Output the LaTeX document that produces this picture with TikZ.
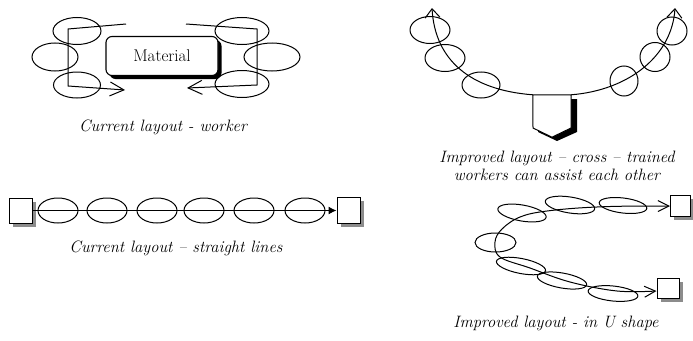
\documentclass[tikz,border=0pt]{standalone}
\usetikzlibrary{shapes.geometric,arrows.meta,shadows}
\begin{document}
\begin{tikzpicture}[x=1pt,y=-1pt,
  flow/.style={line width=1pt},
  worker/.style={draw, ellipse, line width=1pt, inner sep=0pt},
  station/.style={draw, fill=white, line width=1pt, inner sep=0pt,
    drop shadow={shadow xshift=3.5pt, shadow yshift=-3.5pt, fill=black!45, opacity=1}},
  caption/.style={font=\fontsize{16.5}{18}\selectfont\itshape, inner sep=0pt, align=center},
  openend/.style={-{Straight Barb[length=14pt,width=14pt,line width=1pt]}},
  uptip/.style={-{Straight Barb[length=9pt,width=15pt,line width=1pt]}},
  bothends/.style={{Straight Barb[length=11pt,width=11pt,line width=1pt]}-{Straight Barb[length=11pt,width=11pt,line width=1pt]}}]

\useasboundingbox (0,0) rectangle (693,340);

% ---------- current layout: one worker per side of the material ----------
\node[draw, fill=white, line width=1.1pt, rounded corners=6pt, minimum width=112pt, minimum height=39pt,
  drop shadow={shadow xshift=3.5pt, shadow yshift=-3.5pt, fill=black, opacity=1},
  font=\fontsize{17}{19}\selectfont] (mat) at (162,56) {Material};

\node[worker, minimum width=48pt, minimum height=27pt] (l1) at (77,31) {};
\node[worker, minimum width=46pt, minimum height=28pt] (l2) at (55,57) {};
\node[worker, minimum width=47pt, minimum height=26pt] (l3) at (77,85) {};
\node[worker, minimum width=54pt, minimum height=27pt] (r1) at (242,31) {};
\node[worker, minimum width=56pt, minimum height=28pt] (r2) at (272,57) {};
\node[worker, minimum width=54pt, minimum height=27pt] (r3) at (242,84) {};

\coordinate (lin) at (126,24);
\coordinate (lout) at (125,90);
\coordinate (rin) at (186,24);
\coordinate (rout) at (187,88);
\draw[flow, openend] (lin) -- (68,29) -- (68,86) -- (lout);
\draw[flow, openend] (rin) -- (257,29) -- (257,85) -- (rout);

\node[caption] (cap1) at (163,127) {Current layout - worker};

% ---------- improved layout: cross-trained workers around one station ----------
\node[minimum width=38pt, minimum height=42pt, inner sep=0pt] (bin) at (552,116) {};
\fill[black] (538,99) -- (577,99) -- (577,132) -- (557,141) -- (538,132) -- cycle;
\draw[fill=white, line width=1pt] (bin.north west) -- (bin.north east) -- (571,128) -- (bin.south) -- (533,128) -- cycle;

\node[worker, minimum width=40pt, minimum height=27pt] (a1) at (430,30) {};
\node[worker, minimum width=40pt, minimum height=27pt] (a2) at (445,58) {};
\node[worker, minimum width=38pt, minimum height=26pt] (a3) at (481,85) {};
\node[worker, minimum width=28pt, minimum height=30pt] (b1) at (624,81) {};
\node[worker, minimum width=30pt, minimum height=29pt] (b2) at (655,57) {};
\node[worker, minimum width=30pt, minimum height=28pt] (b3) at (672,31) {};

\coordinate (atop) at (432,8);
\coordinate (btop) at (675,8);
\draw[flow, uptip] (bin.north west) .. controls (470,90) and (435,60) .. (atop);
\draw[flow, uptip] (bin.north east) .. controls (630,90) and (672,55) .. (btop);

\node[caption] (cap2) at (557,166) {Improved layout -- cross -- trained\\workers can assist each other};

% ---------- current layout: straight line ----------
\node[station, minimum width=23pt, minimum height=25pt] (sl) at (20.5,210.5) {};
\node[station, minimum width=23pt, minimum height=26pt] (sr) at (348.5,210.5) {};
\foreach \x [count=\i] in {58,107,157,204,254,305}
  \node[worker, minimum width=40pt, minimum height=25pt] (s\i) at (\x,210.5) {};
\draw[flow, -{Latex[length=8pt,width=8pt]}] (sl) -- (sr);

\node[caption] (cap3) at (176,248) {Current layout -- straight lines};

% ---------- improved layout: U shape ----------
\node[station, minimum width=20pt, minimum height=21pt] (ut) at (680.5,206) {};
\node[station, minimum width=22pt, minimum height=20pt] (ub) at (668,288) {};

\node[worker, minimum width=48pt, minimum height=15pt, rotate=-7] (u1) at (623,205.5) {};
\node[worker, minimum width=50pt, minimum height=16pt, rotate=-9] (u2) at (570,205) {};
\node[worker, minimum width=49pt, minimum height=16pt, rotate=-10] (u3) at (522,213) {};
\node[worker, minimum width=41pt, minimum height=19pt] (u4) at (495.5,242.5) {};
\node[worker, minimum width=50pt, minimum height=15pt, rotate=-11] (u5) at (521,266) {};
\node[worker, minimum width=50pt, minimum height=15pt, rotate=-10] (u6) at (562,280.5) {};
\node[worker, minimum width=50pt, minimum height=15pt, rotate=-6] (u7) at (613,293.5) {};

\coordinate (ubin) at ([yshift=-3pt]ub.west);
\draw[flow, bothends] plot[smooth, tension=0.6] coordinates
  {(ut.west) (597,207) (547,211) (520,217) (502,229) (495,242) (500,257) (530,268) (570,282) (617,291) (ubin)};

\node[caption] (cap4) at (556,323) {Improved layout - in U shape};

\end{tikzpicture}
\end{document}
